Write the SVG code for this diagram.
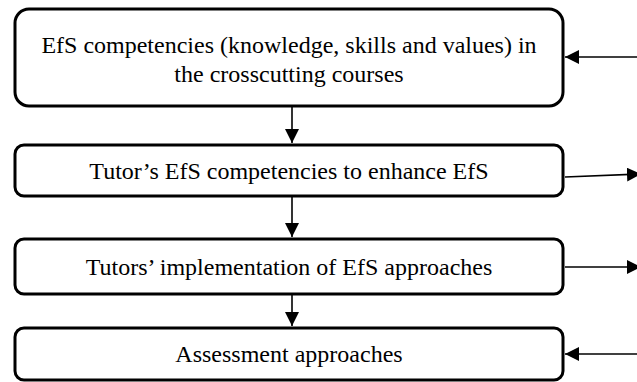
<svg xmlns="http://www.w3.org/2000/svg" width="637" height="382" viewBox="0 0 637 382">
  <style>
    .box { fill: #ffffff; stroke: #000000; stroke-width: 3; }
    .label { font-family: "Liberation Serif", "Times New Roman", serif; font-size: 24px; fill: #000000; text-anchor: middle; }
    .link { stroke: #000000; stroke-width: 1.6; fill: none; }
  </style>
  <defs>
    <marker id="headBig" viewBox="0 0 10 10" refX="10" refY="5" markerWidth="14" markerHeight="14" markerUnits="userSpaceOnUse" orient="auto">
      <path d="M0,0 L10,5 L0,10 Z" fill="#000000"/>
    </marker>
  </defs>

  <g id="node-competencies">
    <rect class="box" x="15" y="9" width="548" height="97" rx="14" ry="14"/>
    <text class="label" x="289" y="53">EfS competencies (knowledge, skills and values) in</text>
    <text class="label" x="289" y="82">the crosscutting courses</text>
  </g>

  <g id="node-tutor-competencies">
    <rect class="box" x="15" y="145" width="548" height="51" rx="9" ry="9"/>
    <text class="label" x="289" y="179">Tutor’s EfS competencies to enhance EfS</text>
  </g>

  <g id="node-implementation">
    <rect class="box" x="15" y="239" width="548" height="55" rx="9" ry="9"/>
    <text class="label" x="289" y="275">Tutors’ implementation of EfS approaches</text>
  </g>

  <g id="node-assessment">
    <rect class="box" x="15" y="328" width="548" height="52" rx="9" ry="9"/>
    <text class="label" x="289" y="362">Assessment approaches</text>
  </g>

  <g id="connectors">
    <line class="link" x1="292" y1="107" x2="292" y2="143" marker-end="url(#headBig)"/>
    <line class="link" x1="292" y1="197" x2="292" y2="237" marker-end="url(#headBig)"/>
    <line class="link" x1="292" y1="295" x2="292" y2="326" marker-end="url(#headBig)"/>
    <line class="link" x1="637" y1="57" x2="565" y2="57" marker-end="url(#headBig)"/>
    <line class="link" x1="565" y1="177" x2="641" y2="174" marker-end="url(#headBig)"/>
    <line class="link" x1="565" y1="267" x2="641" y2="267" marker-end="url(#headBig)"/>
    <line class="link" x1="637" y1="354" x2="565" y2="354" marker-end="url(#headBig)"/>
  </g>
</svg>
